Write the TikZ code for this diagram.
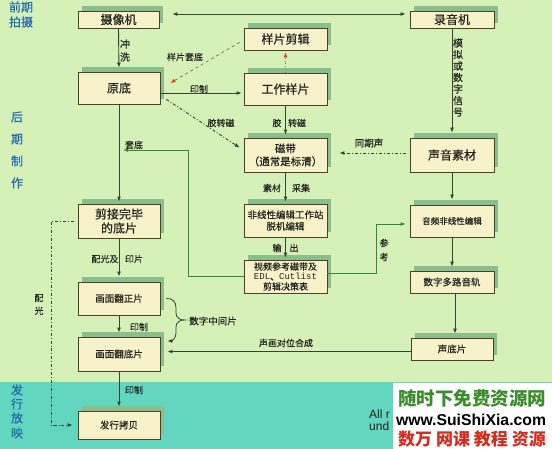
\documentclass[tikz,border=0pt]{standalone}
\usepackage{fontspec}
\usepackage{graphicx}
\setmainfont{Noto Sans CJK SC}
\newfontfamily\boxf[FakeBold=0.5]{Noto Sans CJK SC}
\newfontfamily\labf[FakeBold=0.3]{Noto Sans CJK SC}
\newfontfamily\lat{Liberation Sans}
\newfontfamily\mono{Liberation Mono}
\usetikzlibrary{shadows,arrows.meta,calc}
\definecolor{bgtop}{RGB}{214,241,184}
\definecolor{bgbot}{RGB}{98,214,190}
\definecolor{boxfill}{RGB}{248,242,202}
\definecolor{boxline}{RGB}{75,65,40}
\definecolor{shadowc}{RGB}{138,190,140}
\definecolor{linec}{RGB}{50,70,50}
\definecolor{greenl}{RGB}{45,140,55}
\definecolor{sidec}{RGB}{35,105,170}
\definecolor{redtip}{RGB}{220,60,30}
\definecolor{dashc}{RGB}{140,125,70}
\definecolor{labc}{RGB}{35,35,30}
\definecolor{wmgreen}{RGB}{60,140,45}
\definecolor{wmred}{RGB}{210,45,30}
\tikzset{
  box/.style={draw=boxline, line width=0.8pt, fill=boxfill, text=labc,
    general shadow={fill=shadowc, shadow xshift=4pt, shadow yshift=5pt},
    inner sep=0pt, align=center, font=\boxf\fontsize{12}{14}\selectfont},
  bsz/.style 2 args={minimum width=#1pt, minimum height=#2pt},
  small/.style={font=\boxf\fontsize{9.5}{11.5}\selectfont},
  conn/.style={draw=linec, line width=0.9pt, -{Latex[length=5pt,width=4pt]}},
  lab/.style={font=\labf\fontsize{9}{10}\selectfont, text=labc, inner sep=0pt},
  side/.style={font=\labf\fontsize{12}{13}\selectfont, text=sidec, inner sep=0pt}
}
\begin{document}
\begin{tikzpicture}[x=1pt,y=-1pt]
\fill[bgtop] (0,0) rectangle (552,382);
\fill[bgbot] (0,382) rectangle (552,449);
\useasboundingbox (0,0) rectangle (552,449);

% side labels
\node[side] (s1) at (21,7) {前期};
\node[side] (s2) at (21,22) {拍摄};
\node[side] (s3) at (17,117) {后};
\node[side] (s4) at (17,139) {期};
\node[side] (s5) at (17,161) {制};
\node[side] (s6) at (17,183) {作};
\node[side] (s7) at (17,390) {发};
\node[side] (s8) at (17,404) {行};
\node[side] (s9) at (17,418) {放};
\node[side] (s10) at (17,433) {映};

% boxes
\node[box, bsz={81}{17}] (cam) at (118.5,19.5) {摄像机};
\node[box, bsz={84}{17}] (rec) at (452,19.5) {录音机};
\node[box, bsz={83}{22}] (ypjj) at (285.5,39) {样片剪辑};
\node[box, bsz={82}{32}] (yd) at (119,88) {原底};
\node[box, bsz={83}{32}] (gzyp) at (285.5,89) {工作样片};
\node[box, bsz={83}{34}, font=\boxf\fontsize{10.5}{13}\selectfont] (cd) at (285.5,155) {磁带\\（通常是标清）};
\node[box, bsz={84}{34}] (sysc) at (452,155) {声音素材};
\node[box, bsz={83}{33}, small] (fxx) at (285.5,220.5) {非线性编辑工作站\\脱机编辑};
\node[box, bsz={84}{32}, font=\boxf\fontsize{8.5}{10}\selectfont] (ypfx) at (452,221) {音频非线性编辑};
\node[box, bsz={83}{33}, font=\boxf\fontsize{9}{10}\selectfont] (spck) at (285.5,276.5) {视频参考磁带及\\{\mono EDL}、{\mono Cutlist}\\剪辑决策表};
\node[box, bsz={84}{22}, small] (szdl) at (452,282) {数字多路音轨};
\node[box, bsz={82}{34}] (jjwb) at (119,221) {剪接完毕\\的底片};
\node[box, bsz={82}{33}, small] (hmzp) at (119,298.5) {画面翻正片};
\node[box, bsz={82}{34}, small] (hmdp) at (119,354) {画面翻底片};
\node[box, bsz={82}{22}, small] (sdp) at (452,349) {声底片};
\node[box, bsz={82}{28}, small] (fxkb) at (119,425) {发行拷贝};

% connectors
\draw[conn, {Latex[length=5pt,width=4pt]}-{Latex[length=5pt,width=4pt]}]
  ([shift={(13,-5.5)}]cam.east) -- ([shift={(-4,-5.5)}]rec.west);
\draw[conn, shorten >=4pt] (cam.south) -- (yd.north);
\node[lab, align=center, font=\labf\fontsize{10}{13}\selectfont] (lcx) at (125,50.5) {冲\\洗};

\draw[draw=dashc, line width=0.8pt, dashed, -{Latex[length=5pt,width=4pt,fill=redtip,color=redtip]}]
  ([shift={(-4,-8)}]ypjj.south west) -- ([shift={(10,-5)}]yd.east);
\node[lab] (lyptd) at (185,57) {样片套底};

\draw[conn] ([yshift=-5pt]yd.east) -- ([shift={(-2pt,-4pt)}]gzyp.west);
\node[lab] (lyz1) at (199,89) {印制};

\draw[conn, dash dot] ([shift={(6,-5)}]yd.south east) -- ([shift={(-4,10)}]cd.north west);
\node[lab] (ljzc1) at (221,123) {胶转磁};

\draw[draw=dashc, line width=0.8pt, dotted, -{Latex[length=5pt,width=4pt,fill=redtip,color=redtip]}, shorten >=2pt]
  (gzyp.north) -- (ypjj.south);

\draw[conn, shorten >=3pt] (gzyp.south) -- (cd.north);
\node[lab] (ljzc2a) at (277,123) {胶};
\node[lab] (ljzc2b) at (297,123) {转磁};

\draw[conn, shorten >=2pt] (cd.south) -- (fxx.north);
\node[lab] (lsc1) at (272,188) {素材};
\node[lab] (lsc2) at (301,188) {采集};

\draw[conn, shorten >=2pt] (fxx.south) -- (spck.north);
\node[lab] (lsc3) at (277,248) {输};
\node[lab] (lsc4) at (294,248) {出};

\draw[conn, dash dot] ([shift={(-4,-2)}]sysc.west) -- ([shift={(12,-2)}]cd.east);
\node[lab, font=\labf\fontsize{9.5}{10}\selectfont] (ltqs) at (369,143) {同期声};

\draw[conn, shorten >=5pt] (rec.south) -- (sysc.north);
\node[lab, align=center, font=\labf\fontsize{10}{11.5}\selectfont] (lmn) at (458,77.5) {模\\拟\\或\\数\\字\\信\\号};

\draw[conn, shorten >=5pt] (sysc.south) -- (ypfx.north);
\draw[conn, shorten >=4pt] (ypfx.south) -- (szdl.north);
\draw[conn, shorten >=4pt] ([xshift=3pt]szdl.south) -- ([xshift=3pt]sdp.north);

\draw[conn, draw=greenl] ([yshift=3.5pt]spck.east) -- ++(49,0) |- ([shift={(-4pt,-3pt)}]ypfx.west);
\node[lab, align=center, font=\labf\fontsize{9}{14}\selectfont] (lck) at (384,250) {参\\考};

\coordinate (tdj) at (123,150);
\draw[conn, draw=greenl] (spck.west) -- ++(-55,0) |- (tdj);

\draw[conn, shorten >=2pt] (yd.south) -- (jjwb.north);
\node[lab] (ltd) at (134,145) {套底};

\draw[conn] ([yshift=-2.5pt]sdp.west) -- ([shift={(7pt,2.5pt)}]hmdp.east);
\node[lab] (lshd) at (286,343) {声画对位合成};

\draw[conn, shorten >=5pt] (jjwb.south) -- (hmzp.north);
\node[lab] (lpg1) at (105,259) {配光及};
\node[lab] (lpg2) at (134,259) {印片};

\draw[conn, shorten >=4pt] (hmzp.south) -- (hmdp.north);
\node[lab] (lyz2) at (139,327) {印制};

\draw[conn, shorten >=4pt] (hmdp.south) -- (fxkb.north);
\node[lab] (lyz3) at (134,390) {印制};

\coordinate (pg) at (51,221);
\draw[conn, dash dot] ([xshift=-4pt]jjwb.west) -- (pg) |- ([xshift=-5pt]fxkb.west);
\node[lab, align=center, font=\labf\fontsize{9}{13}\selectfont] (lpg) at (39,304.5) {配\\光};

% brace
\coordinate (br1) at ([xshift=6pt]hmzp.east);
\coordinate (br2) at ([shift={(7pt,13pt)}]hmdp.east);
\draw[draw=linec, line width=0.8pt, -{Latex[length=5pt,width=4pt]}]
  (br1) .. controls (173,298) and (176,302) .. (176,308) -- (176,313)
  .. controls (176,318) and (180,320) .. (185,320)
  .. controls (180,320) and (176,322) .. (176,327) -- (176,333)
  .. controls (176,338) and (172,341) .. (br2);
\node[lab, font=\labf\fontsize{9.5}{10}\selectfont] (lszz) at (213,321) {数字中间片};

% bottom text and watermark
\node[anchor=west, inner sep=0pt, font=\lat\fontsize{12}{13}\selectfont, text=labc] (allr) at (369,414) {All r};
\node[anchor=west, inner sep=0pt, font=\lat\fontsize{12}{13}\selectfont, text=labc] (und) at (369,426) {und};
\fill[white] (393,383) rectangle (552,449);
\node[inner sep=0pt, text=wmgreen, font=\bfseries\fontsize{18.5}{19}\selectfont] (wm1) at (472,398.5) {随时下免费资源网};
\node[inner sep=0pt, text=black] (wm2) at (471,420) {\resizebox{150pt}{!}{\lat\bfseries www.SuiShiXia.com}};
\node[inner sep=0pt, text=wmred, font=\bfseries\fontsize{17}{18}\selectfont] (wm3) at (472,439) {数万 网课 教程 资源};
\end{tikzpicture}
\end{document}
